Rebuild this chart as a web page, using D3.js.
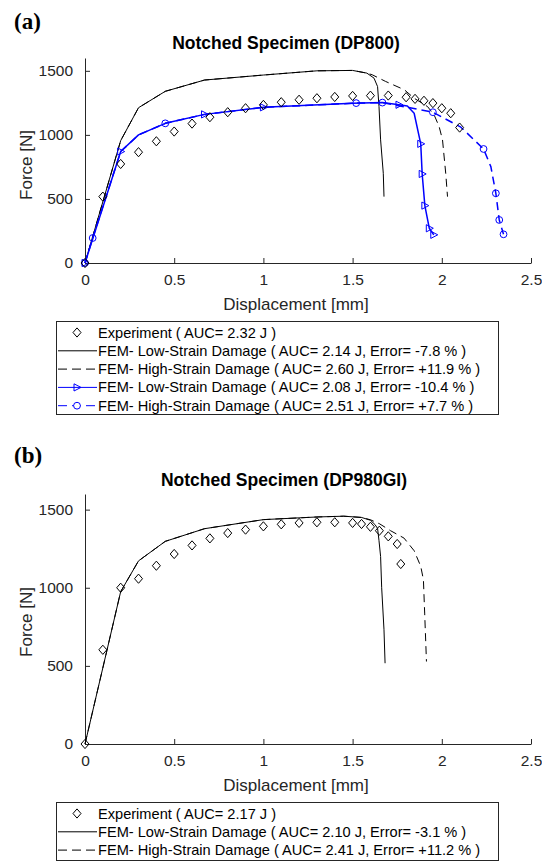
<!DOCTYPE html>
<html>
<head>
<meta charset="utf-8">
<script src="https://cdn.jsdelivr.net/npm/d3@7"></script>
<style>
  html, body { margin: 0; padding: 0; background: #fff; }
  svg { display: block; }
</style>
</head>
<body>
<svg id="chart" width="542" height="861"></svg>
<script>
// ---------- tick values ----------
const xTicks = [0, 0.5, 1, 1.5, 2, 2.5];
const yTicks = [0, 500, 1000, 1500];

// ---------- panel (a) DP800 ----------
const expA_x = [0,0.1,0.2,0.3,0.4,0.5,0.6,0.7,0.8,0.9,1.0,1.1,1.2,1.3,1.4,1.5,1.6,1.7,1.8,1.85,1.9,1.95,2.0,2.05,2.1];
const expA_F = [0,518,773,865,950,1026,1088,1138,1177,1208,1234,1255,1274,1286,1296,1304,1306,1307,1294,1281,1266,1248,1208,1169,1057];

const lowA_x = [0,0.2,0.3,0.45,0.67,1.0,1.3,1.5,1.58,1.62,1.64,1.648,1.657,1.672,1.676];
const lowA_F = [0,955,1212,1340,1428,1467,1500,1503,1482,1443,1377,1221,961,700,518];

const highA_x = [0,0.2,0.3,0.45,0.67,1.0,1.3,1.5,1.58,1.61,1.685,1.79,1.845,1.92,1.957,1.985,2.004,2.022,2.032];
const highA_F = [0,955,1212,1340,1428,1467,1500,1503,1482,1469,1417,1352,1286,1221,1156,1065,961,700,518];

const blueLowA_x = [0,0.2,0.3,0.45,0.67,1.0,1.5,1.667,1.76,1.807,1.845,1.882,1.89,1.905,1.93,1.955];
const blueLowA_F = [0,870,1000,1090,1160,1215,1246,1252,1235,1225,1169,930,695,448,271,220];
const blueLowA_markers = [0,1,4,5,8,11,12,13,14,15];

const blueHighA_x = [0,0.043,0.2,0.3,0.45,0.67,1.0,1.52,1.667,1.95,2.107,2.234,2.275,2.303,2.322,2.346];
const blueHighA_F = [0,195,870,1000,1090,1160,1215,1248,1252,1177,1060,890,752,544,336,224];
const blueHighA_markers = [0,1,4,7,8,9,11,13,14,15];

const legendA = [
  "Experiment ( AUC= 2.32 J )",
  "FEM- Low-Strain Damage ( AUC= 2.14 J, Error= -7.8 % )",
  "FEM- High-Strain Damage ( AUC= 2.60 J, Error= +11.9 % )",
  "FEM- Low-Strain Damage ( AUC= 2.08 J, Error= -10.4 % )",
  "FEM- High-Strain Damage ( AUC= 2.51 J, Error= +7.7 % )"
];

// ---------- panel (b) DP980GI ----------
const expB_x = [0,0.1,0.2,0.3,0.4,0.5,0.6,0.7,0.8,0.9,1.0,1.1,1.2,1.3,1.4,1.5,1.55,1.6,1.65,1.7,1.75,1.77];
const expB_F = [0,603,1000,1058,1141,1216,1271,1316,1350,1372,1393,1406,1415,1419,1419,1415,1408,1390,1365,1329,1280,1152];

const lowB_x = [0,0.2,0.3,0.45,0.67,1.0,1.3,1.45,1.55,1.6,1.625,1.64,1.648,1.657,1.663,1.676,1.682];
const lowB_F = [0,975,1172,1297,1378,1436,1453,1458,1450,1432,1405,1380,1301,1200,1000,731,517];

const highB_x = [0,0.2,0.3,0.45,0.67,1.0,1.3,1.45,1.55,1.6,1.65,1.713,1.788,1.845,1.882,1.897,1.904,1.914];
const highB_F = [0,975,1172,1297,1378,1436,1453,1458,1450,1435,1410,1365,1318,1237,1137,1051,838,528];

const legendB = [
  "Experiment ( AUC= 2.17 J )",
  "FEM- Low-Strain Damage ( AUC= 2.10 J, Error= -3.1 % )",
  "FEM- High-Strain Damage ( AUC= 2.41 J, Error= +11.2 % )"
];

// ---------- drawing ----------
const svg = d3.select("#chart");
const AXC = "#262626";
const FONT = "'Liberation Sans', Arial, Helvetica, sans-serif";
const DASH = "8,5";

const zip = (xs, ys) => xs.map((v, i) => ({ x: v, y: ys[i] }));
const diamondPath = "M0,-4.6L4,0L0,4.6L-4,0Z";
const triPath = "M-3,-3.6L4,0L-3,3.6Z";

function drawPanel(cfg) {
  const x = d3.scaleLinear().domain([0, 2.5]).range([85, 531]);
  const y = d3.scaleLinear().domain([0, 1600]).range([cfg.y0, cfg.y1]);
  const g = svg.append("g");

  // panel tag
  g.append("text").attr("x", 14).attr("y", cfg.tagY)
    .attr("font-family", "'Liberation Serif', 'DejaVu Serif', serif")
    .attr("font-weight", "bold").attr("font-size", 23).attr("fill", "#000")
    .text(cfg.tag);

  // title
  g.append("text").attr("x", cfg.titleX).attr("y", cfg.titleY)
    .attr("text-anchor", "middle").attr("font-family", FONT)
    .attr("font-weight", "bold").attr("font-size", 17.5).attr("fill", "#000")
    .text(cfg.title);

  // axes
  const xAxis = d3.axisBottom(x).tickValues(xTicks).tickSizeInner(-5).tickSizeOuter(0)
    .tickPadding(11).tickFormat(d => String(d));
  const yAxis = d3.axisLeft(y).tickValues(yTicks).tickSizeInner(-5).tickSizeOuter(0)
    .tickPadding(12).tickFormat(d => String(d));

  const gx = g.append("g").attr("transform", `translate(0,${cfg.y0})`).call(xAxis);
  const gy = g.append("g").attr("transform", `translate(85,0)`).call(yAxis);
  [gx, gy].forEach(a => {
    a.select(".domain").attr("stroke", AXC).attr("stroke-width", 1);
    a.selectAll(".tick line").attr("stroke", AXC).attr("stroke-width", 1);
    a.selectAll(".tick text").attr("fill", AXC).attr("font-family", FONT).attr("font-size", 15.5);
  });

  // axis labels
  g.append("text").attr("x", 296).attr("y", cfg.y0 + 47)
    .attr("text-anchor", "middle").attr("font-family", FONT).attr("font-size", 17).attr("fill", AXC)
    .text("Displacement [mm]");
  g.append("text").attr("transform", `translate(32,${cfg.yLabelY}) rotate(-90)`)
    .attr("text-anchor", "middle").attr("font-family", FONT).attr("font-size", 17).attr("fill", AXC)
    .text("Force [N]");

  const line = d3.line().x(d => x(d.x)).y(d => y(d.y));

  cfg.series.forEach(s => {
    const data = zip(s.xs, s.ys);
    if (s.line) {
      g.append("path").datum(data).attr("d", line).attr("fill", "none")
        .attr("stroke", s.color).attr("stroke-width", s.width)
        .attr("stroke-dasharray", s.dash ? DASH : null)
        .attr("stroke-linejoin", "round");
    }
    if (s.marker) {
      const pts = s.markerIdx ? s.markerIdx.map(i => data[i]) : data;
      if (s.marker === "circle") {
        g.append("g").selectAll("circle").data(pts).join("circle")
          .attr("cx", d => x(d.x)).attr("cy", d => y(d.y)).attr("r", 3.4)
          .attr("fill", "none").attr("stroke", s.color).attr("stroke-width", 1);
      } else {
        const p = s.marker === "diamond" ? diamondPath : triPath;
        g.append("g").selectAll("path").data(pts).join("path")
          .attr("d", p).attr("transform", d => `translate(${x(d.x)},${y(d.y)})`)
          .attr("fill", "none").attr("stroke", s.color).attr("stroke-width", 1);
      }
    }
  });

  // legend
  const L = cfg.legend;
  const lg = g.append("g");
  lg.append("rect").attr("x", 56.5).attr("y", L.top + 0.5).attr("width", 442).attr("height", L.h)
    .attr("fill", "#fff").attr("stroke", AXC).attr("stroke-width", 1);
  L.items.forEach((it, i) => {
    const cy = L.top + 11.5 + i * 18.3;
    if (it.line) {
      lg.append("line").attr("x1", 58).attr("x2", 97).attr("y1", cy).attr("y2", cy)
        .attr("stroke", it.color).attr("stroke-width", it.width)
        .attr("stroke-dasharray", it.dash ? "9,5" : null);
    }
    if (it.marker === "diamond") {
      lg.append("path").attr("d", diamondPath).attr("transform", `translate(77,${cy})`)
        .attr("fill", "none").attr("stroke", it.color).attr("stroke-width", 1);
    } else if (it.marker === "tri") {
      lg.append("path").attr("d", triPath).attr("transform", `translate(77,${cy})`)
        .attr("fill", "none").attr("stroke", it.color).attr("stroke-width", 1);
    } else if (it.marker === "circle") {
      lg.append("circle").attr("cx", 77).attr("cy", cy).attr("r", 3.4)
        .attr("fill", "#fff").attr("stroke", it.color).attr("stroke-width", 1);
    }
    lg.append("text").attr("x", 98).attr("y", cy + 5).attr("font-family", FONT)
      .attr("font-size", 14.6).attr("fill", "#000").text(it.label);
  });
}

const sExp = (xs, ys) => ({ xs, ys, line: false, marker: "diamond", color: "#000" });

drawPanel({
  tag: "(a)", tagY: 29, title: "Notched Specimen (DP800)", titleX: 286, titleY: 49,
  y0: 263, y1: 58, yLabelY: 165,
  series: [
    { xs: highA_x, ys: highA_F, line: true, dash: true, color: "#000", width: 1 },
    { xs: lowA_x, ys: lowA_F, line: true, color: "#000", width: 1 },
    { xs: blueHighA_x, ys: blueHighA_F, line: true, dash: true, color: "#0000ff", width: 1.5, marker: "circle", markerIdx: blueHighA_markers },
    { xs: blueLowA_x, ys: blueLowA_F, line: true, color: "#0000ff", width: 1.5, marker: "tri", markerIdx: blueLowA_markers },
    sExp(expA_x, expA_F)
  ],
  legend: {
    top: 321, h: 93,
    items: [
      { label: legendA[0], marker: "diamond", color: "#000" },
      { label: legendA[1], line: true, color: "#000", width: 1 },
      { label: legendA[2], line: true, dash: true, color: "#000", width: 1 },
      { label: legendA[3], line: true, color: "#0000ff", width: 1, marker: "tri" },
      { label: legendA[4], line: true, dash: true, color: "#0000ff", width: 1, marker: "circle" }
    ]
  }
});

drawPanel({
  tag: "(b)", tagY: 463, title: "Notched Specimen (DP980GI)", titleX: 284, titleY: 486,
  y0: 744, y1: 494, yLabelY: 622,
  series: [
    { xs: highB_x, ys: highB_F, line: true, dash: true, color: "#000", width: 1 },
    { xs: lowB_x, ys: lowB_F, line: true, color: "#000", width: 1 },
    sExp(expB_x, expB_F)
  ],
  legend: {
    top: 802, h: 58,
    items: [
      { label: legendB[0], marker: "diamond", color: "#000" },
      { label: legendB[1], line: true, color: "#000", width: 1 },
      { label: legendB[2], line: true, dash: true, color: "#000", width: 1 }
    ]
  }
});
</script>
</body>
</html>
